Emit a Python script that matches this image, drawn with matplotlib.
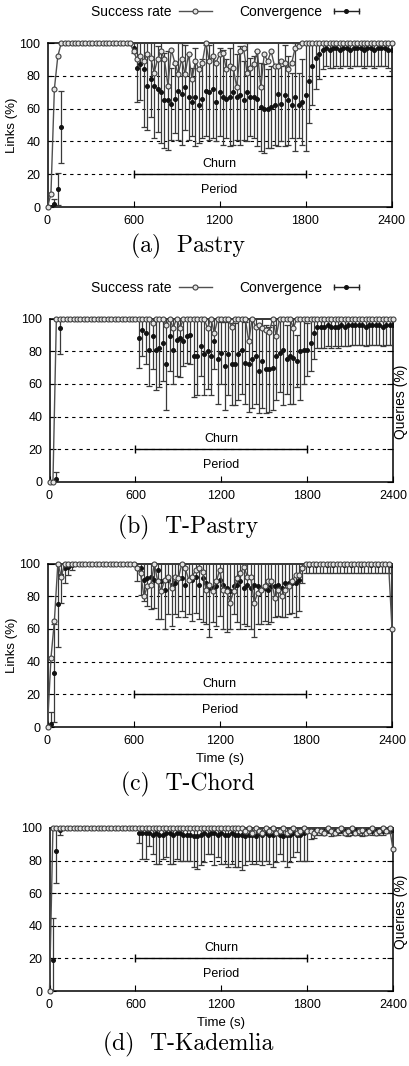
import numpy as np
import matplotlib
matplotlib.use('Agg')
import matplotlib.pyplot as plt
from matplotlib.lines import Line2D
from matplotlib.legend_handler import HandlerLine2D, HandlerTuple

plt.rcParams['font.family'] = ['Liberation Sans', 'DejaVu Sans']
plt.rcParams['font.size'] = 9

# sample instants (s), one every 24 s
time_s = np.arange(0, 2401, 24)
churn_start, churn_end = 600, 1800

# ---------- (a) Pastry ----------
succ_a = [0, 8, 72, 92, 100, 100, 100, 100, 100, 100,
          100, 100, 100, 100, 100, 100, 100, 100, 100, 100,
          100, 100, 100, 100, 100, 95, 90, 92, 89, 93,
          91, 82, 90, 95, 90, 74, 96, 88, 81, 90,
          81, 93, 78, 89, 84, 88, 100, 89, 92, 88,
          93, 94, 84, 86, 85, 73, 95, 97, 82, 85,
          87, 95, 73, 93, 89, 95, 86, 86, 89, 88,
          84, 88, 97, 98, 100, 100, 100, 100, 100, 100,
          100, 100, 100, 100, 100, 100, 100, 100, 100, 100,
          100, 100, 100, 100, 100, 100, 100, 100, 100, 100,
          100]
conv_a = [0, 0, 2, 11, 49, 100, 100, 100, 100, 100,
          100, 100, 100, 100, 100, 100, 100, 100, 100, 100,
          100, 100, 100, 100, 100, 97, 85, 87, 84, 74,
          78, 74, 72, 70, 65, 65, 63, 66, 71, 69,
          73, 67, 64, 67, 62, 66, 71, 70, 72, 64,
          70, 67, 66, 67, 70, 67, 68, 65, 70, 67,
          67, 66, 61, 60, 60, 61, 62, 69, 63, 68,
          65, 62, 67, 62, 64, 68, 77, 86, 91, 93,
          96, 97, 96, 97, 97, 96, 97, 97, 96, 97,
          97, 97, 96, 97, 97, 96, 97, 97, 97, 96,
          96]
std_a = [0, 0, 3, 10, 22, 0, 0, 0, 0, 0,
         0, 0, 0, 0, 0, 0, 0, 0, 0, 0,
         0, 0, 0, 0, 0, 3, 21, 22, 35, 27,
         23, 32, 26, 31, 29, 30, 22, 21, 30, 31,
         26, 26, 21, 30, 23, 24, 28, 29, 30, 24,
         27, 29, 24, 30, 32, 26, 30, 24, 30, 24,
         25, 29, 27, 27, 24, 25, 24, 32, 23, 31,
         27, 20, 33, 20, 26, 34, 26, 24, 19, 15,
         12, 11, 11, 12, 11, 11, 11, 11, 11, 11,
         11, 11, 11, 11, 11, 11, 11, 11, 11, 11,
         13]

# ---------- (b) T-Pastry ----------
succ_b = [0, 0, 100, 100, 100, 100, 100, 100, 100, 100,
          100, 100, 100, 100, 100, 100, 100, 100, 100, 100,
          100, 100, 100, 100, 100, 100, 100, 100, 100, 100,
          97, 100, 100, 100, 96, 100, 94, 100, 94, 100,
          100, 100, 100, 100, 100, 100, 94, 100, 91, 100,
          100, 100, 100, 95, 100, 100, 100, 100, 86, 100,
          95, 96, 94, 93, 92, 100, 89, 100, 100, 100,
          100, 94, 100, 100, 100, 100, 100, 100, 100, 100,
          100, 100, 100, 100, 100, 100, 100, 100, 100, 100,
          100, 100, 100, 100, 100, 100, 100, 100, 100, 100,
          100]
conv_b = [0, 0, 2, 94, 100, 100, 100, 100, 100, 100,
          100, 100, 100, 100, 100, 100, 100, 100, 100, 100,
          100, 100, 100, 100, 100, 100, 88, 93, 91, 81,
          89, 81, 82, 85, 72, 89, 81, 87, 88, 86,
          89, 90, 77, 77, 83, 78, 80, 77, 86, 75,
          79, 71, 78, 72, 72, 78, 81, 73, 72, 75,
          77, 68, 74, 69, 69, 70, 77, 79, 81, 75,
          77, 76, 74, 80, 81, 81, 85, 91, 95, 95,
          95, 96, 95, 95, 95, 96, 95, 96, 96, 96,
          96, 96, 95, 96, 96, 96, 96, 95, 96, 96,
          96]
std_b = [0, 0, 4, 16, 0, 0, 0, 0, 0, 0,
         0, 0, 0, 0, 0, 0, 0, 0, 0, 0,
         0, 0, 0, 0, 0, 0, 18, 16, 19, 22,
         20, 25, 24, 23, 28, 21, 21, 22, 24, 15,
         16, 18, 25, 24, 18, 25, 23, 24, 17, 27,
         19, 27, 25, 25, 25, 28, 27, 25, 29, 30,
         29, 26, 29, 27, 26, 26, 27, 24, 34, 21,
         29, 28, 16, 30, 21, 16, 17, 16, 13, 13,
         13, 13, 13, 12, 13, 13, 12, 13, 12, 12,
         12, 12, 12, 12, 12, 12, 12, 12, 12, 12,
         12]

# ---------- (c) T-Chord ----------
succ_c = [0, 42, 65, 100, 92, 100, 100, 100, 100, 100,
          100, 100, 100, 100, 100, 100, 100, 100, 100, 100,
          100, 100, 100, 100, 100, 100, 97, 94, 80, 86,
          87, 100, 89, 83, 90, 92, 85, 92, 91, 100,
          97, 90, 92, 96, 97, 95, 84, 87, 83, 89,
          96, 84, 83, 76, 83, 91, 94, 98, 92, 92,
          76, 82, 84, 86, 89, 89, 79, 84, 80, 84,
          86, 89, 93, 93, 97, 100, 100, 100, 100, 100,
          100, 100, 100, 100, 100, 100, 100, 100, 100, 100,
          100, 100, 100, 100, 100, 100, 100, 100, 100, 100,
          60]
conv_c = [0, 2, 33, 75, 93, 97, 98, 99, 100, 100,
          100, 100, 100, 100, 100, 100, 100, 100, 100, 100,
          100, 100, 100, 100, 100, 100, 97, 97, 90, 91,
          92, 90, 96, 89, 84, 90, 87, 88, 91, 91,
          87, 90, 90, 92, 87, 91, 88, 85, 85, 86,
          90, 87, 85, 83, 86, 87, 89, 85, 87, 85,
          87, 86, 84, 85, 84, 86, 86, 87, 85, 88,
          88, 88, 88, 90, 97, 100, 99, 100, 99, 100,
          100, 99, 100, 99, 100, 100, 99, 100, 99, 100,
          100, 99, 100, 100, 99, 100, 99, 100, 100, 99,
          99]
std_c = [0, 7, 30, 26, 17, 9, 5, 3, 0, 0,
         0, 0, 0, 0, 0, 0, 0, 0, 0, 0,
         0, 0, 0, 0, 0, 0, 8, 16, 13, 17,
         20, 17, 30, 23, 24, 21, 25, 19, 24, 20,
         20, 21, 25, 22, 21, 27, 25, 30, 21, 24,
         22, 27, 27, 23, 17, 23, 29, 22, 25, 25,
         32, 23, 21, 20, 21, 22, 19, 19, 18, 21,
         19, 18, 21, 19, 9, 6, 5, 6, 5, 6,
         6, 5, 6, 5, 6, 6, 5, 6, 5, 6,
         6, 5, 6, 6, 5, 6, 5, 6, 6, 5,
         5]

# ---------- (d) T-Kademlia ----------
succ_d = [0, 100, 100, 100, 100, 100, 100, 100, 100, 100,
          100, 100, 100, 100, 100, 100, 100, 100, 100, 100,
          100, 100, 100, 100, 100, 100, 100, 100, 100, 100,
          100, 100, 100, 100, 100, 100, 100, 100, 100, 100,
          100, 100, 100, 100, 100, 100, 100, 100, 100, 100,
          100, 100, 100, 100, 100, 100, 100, 98, 100, 97,
          100, 98, 97, 100, 98, 100, 97, 98, 100, 97,
          98, 100, 97, 98, 100, 98, 98, 97, 99, 98,
          97, 100, 98, 97, 99, 100, 97, 98, 100, 97,
          98, 99, 97, 98, 100, 97, 98, 100, 98, 100,
          87]
conv_d = [0, 19, 86, 99, 100, 100, 100, 100, 100, 100,
          100, 100, 100, 100, 100, 100, 100, 100, 100, 100,
          100, 100, 100, 100, 100, 100, 97, 97, 97, 97,
          96, 97, 96, 96, 97, 97, 96, 97, 97, 96,
          96, 96, 95, 95, 96, 97, 96, 97, 97, 96,
          97, 96, 96, 97, 96, 96, 96, 95, 96, 96,
          95, 97, 96, 97, 96, 96, 97, 96, 95, 96,
          96, 97, 96, 96, 97, 98, 98, 98, 99, 98,
          98, 99, 98, 98, 98, 99, 98, 98, 98, 99,
          98, 98, 98, 99, 98, 98, 99, 98, 99, 99,
          99]
std_d = [0, 26, 20, 3, 0, 0, 0, 0, 0, 0,
         0, 0, 0, 0, 0, 0, 0, 0, 0, 0,
         0, 0, 0, 0, 0, 0, 6, 16, 16, 8,
         12, 19, 18, 15, 15, 19, 18, 16, 17, 16,
         16, 16, 19, 20, 19, 18, 12, 13, 20, 14,
         19, 18, 20, 19, 20, 20, 22, 18, 16, 18,
         17, 17, 19, 17, 18, 20, 18, 12, 15, 20,
         17, 15, 11, 16, 17, 18, 5, 4, 3, 2,
         2, 2, 3, 2, 2, 2, 2, 3, 2, 2,
         2, 3, 2, 2, 2, 2, 3, 2, 2, 2,
         2]

panels = [
    ('(a)  Pastry', succ_a, conv_a, std_a),
    ('(b)  T-Pastry', succ_b, conv_b, std_b),
    ('(c)  T-Chord', succ_c, conv_c, std_c),
    ('(d)  T-Kademlia', succ_d, conv_d, std_d),
]

W, H = 409, 1066
# axes boxes in pixels: left, right, top, bottom
boxes = [(47.5, 391.5, 43, 207),
         (49.5, 393, 318.5, 482),
         (47.5, 392, 563.5, 727),
         (49.5, 393, 828, 991)]
caption_y = [246, 527, 784, 1044]

fig = plt.figure(figsize=(W / 100, H / 100), dpi=100)

for k, (cap, succ, conv, std) in enumerate(panels):
    l, r, t, b = boxes[k]
    ax = fig.add_axes([l / W, 1 - b / H, (r - l) / W, (b - t) / H])

    for yg in [20, 40, 60, 80]:
        ax.axhline(yg, color='k', lw=0.8, ls=(0, (3, 3.5)), zorder=1)

    ax.errorbar(time_s, conv, yerr=std, fmt='o', ms=2.6, color='#111111',
                ecolor='#3a3a3a', elinewidth=0.9, capsize=2, capthick=0.9,
                zorder=3)
    ax.plot(time_s, succ, '-o', color='#505050', lw=1, ms=3.6, mfc='#e4e4e4',
            mec='#404040', mew=0.8, zorder=4, clip_on=False)

    # churn period marker
    ax.plot([churn_start, churn_end], [20, 20], color='k', lw=1,
            marker='|', ms=6, mew=1, zorder=2)
    ax.text((churn_start + churn_end) / 2, 26.5, 'Churn', ha='center',
            va='center', fontsize=9)
    ax.text((churn_start + churn_end) / 2, 10.5, 'Period', ha='center',
            va='center', fontsize=9)

    ax.set_xlim(0, 2400)
    ax.set_ylim(0, 100)
    ax.set_xticks([0, 600, 1200, 1800, 2400])
    ax.set_yticks([0, 20, 40, 60, 80, 100])
    ax.tick_params(direction='in', length=4, width=0.8, labelsize=9,
                   right=True, pad=5)
    ax.tick_params(axis='x', pad=6)
    for s in ax.spines.values():
        s.set_linewidth(1.1)

    if k in (0, 2):
        ax.set_ylabel('Links (%)', fontsize=9.5, labelpad=1)
    if k in (2, 3):
        ax.set_xlabel('Time (s)', fontsize=9.5, labelpad=4)
    if k in (1, 3):
        fig.text(401.5 / W, 1 - ((t + b) / 2 + 2) / H, 'Queries (%)',
                 rotation=90, ha='center', va='center', fontsize=10)

    fig.text(188 / W, 1 - caption_y[k] / H, cap, ha='center',
             va='center', fontsize=17, family='cmr10')

# legends (gnuplot style: label then symbol)
succ_h = Line2D([], [], color='#505050', lw=1, marker='o', ms=3.6,
                mfc='#e4e4e4', mec='#404040', mew=0.8)
conv_bar = Line2D([], [], color='#222222', lw=1, marker='|', ms=5, mew=1)
conv_dot = Line2D([], [], ls='none', marker='o', ms=2.6, color='#111111')
for ly in [12, 288]:
    fig.legend([succ_h, (conv_bar, conv_dot)], ['Success rate', 'Convergence'],
               handler_map={tuple: HandlerTuple(ndivide=1, pad=0),
                            conv_bar: HandlerLine2D(numpoints=2)},
               loc='center', bbox_to_anchor=(227 / W, 1 - ly / H),
               ncol=2, markerfirst=False, frameon=False, fontsize=10,
               handlelength=2.4, handletextpad=0.5, columnspacing=2.0,
               numpoints=1, borderpad=0)

fig.savefig('out.png', dpi=100)
